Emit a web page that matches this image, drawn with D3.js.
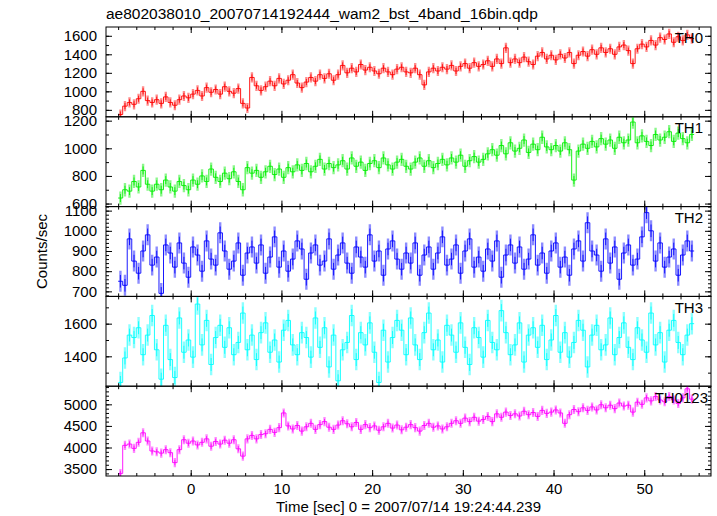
<!DOCTYPE html>
<html><head><meta charset="utf-8">
<script src="https://cdn.jsdelivr.net/npm/d3@7"></script>
<style>
body{margin:0;background:#fff}
svg{display:block}
text{font-family:"Liberation Sans",Arial,Helvetica,sans-serif;fill:#000}
</style>
</head><body>
<svg id="c" width="717" height="516"></svg>
<script>
const chartTitle = "ae802038010_20070714192444_wam2_bst_4band_16bin.qdp";
const xTitle = "Time [sec] 0 = 2007/07/14 19:24:44.239";
const yTitle = "Counts/sec";
const panelNames = ["TH0", "TH1", "TH2", "TH3", "TH0123"];
const panelColors = ["#ff0000", "#00ee00", "#0000ff", "#00ffff", "#ff00ff"];
const yDomains = [[725, 1695], [578, 1228], [675, 1120], [1217, 1767], [3340, 5420]];
const yMajorStep = [200, 200, 100, 200, 500];
const yMinorStep = [100, 100, 20, 100, 100];
const xDomain = [-9.34, 57.36];
const xMajorStep = 10, xMinorStep = 2;
const binStart = -8, binWidth = 0.5;
const errTH = [55, 48, 52, 66, 105];

const th0 = [
750,840,880,860,920,1000,900,880,
910,870,940,880,850,910,950,930,
970,1010,950,1040,990,1020,970,1050,
1000,980,1030,870,820,1150,1060,1010,
1050,1110,1060,1140,1080,1120,1180,1090,
1040,1100,1150,1110,1180,1140,1190,1120,
1180,1280,1200,1250,1210,1290,1230,1260,
1220,1190,1250,1210,1180,1240,1260,1210,
1200,1250,1180,1070,1210,1250,1220,1260,
1240,1280,1220,1270,1300,1250,1310,1270,
1290,1330,1270,1350,1300,1470,1310,1350,
1310,1370,1320,1290,1380,1420,1350,1390,
1340,1400,1360,1420,1300,1390,1430,1380,
1450,1400,1470,1420,1460,1400,1480,1500,
1440,1300,1460,1510,1480,1550,1500,1580,
1560,1620,1530,1590,1550,1610,1570
];
const th1 = [
640,700,690,760,720,840,740,690,
740,700,770,720,690,760,730,700,
770,740,800,760,850,790,760,820,
780,830,760,700,860,820,840,790,
830,870,810,850,790,860,830,880,
840,890,830,870,920,850,890,860,
880,910,850,930,870,900,840,890,
910,860,930,880,850,900,920,870,
850,900,930,870,910,860,890,920,
880,930,900,950,870,910,940,900,
920,960,990,950,1020,960,1040,980,
1000,1060,970,1030,990,1080,1010,990,
1020,980,1040,990,770,980,1030,1000,
1050,1010,1070,1030,1060,1000,1080,1040,
1060,1190,1040,1090,1050,1020,1100,1060,
1080,1120,1050,1110,1070,1040,1100
];
const th2 = [
750,730,960,850,790,900,980,830,
870,690,930,890,820,940,840,770,
920,880,800,950,860,830,990,900,
810,850,940,780,890,920,840,930,
790,870,970,820,900,800,860,950,
910,760,890,930,830,850,960,810,
880,940,840,790,920,870,820,980,
850,900,780,910,950,860,810,890,
840,940,780,880,920,810,890,970,
830,860,930,790,900,960,820,870,
800,910,850,950,770,880,930,840,
920,810,860,980,830,890,790,900,
940,820,870,780,910,950,850,1040,
900,880,800,960,840,920,760,890,
930,830,860,970,1090,1000,850,940,
820,870,910,780,880,950,900
];
const th3 = [
1240,1390,1530,1515,1575,1410,1530,1650,
1440,1260,1590,1380,1270,1635,1425,1500,
1395,1720,1470,1620,1350,1515,1590,1455,
1575,1410,1485,1665,1440,1530,1380,1545,
1605,1425,1500,1365,1560,1620,1470,1410,
1545,1515,1395,1635,1455,1575,1335,1530,
1250,1440,1485,1650,1380,1545,1470,1605,
1425,1240,1560,1365,1515,1620,1560,1410,
1635,1470,1380,1545,1665,1440,1500,1365,
1590,1530,1425,1605,1455,1350,1575,1515,
1395,1620,1485,1440,1680,1545,1410,1470,
1605,1365,1530,1575,1455,1590,1380,1500,
1650,1425,1545,1395,1485,1620,1560,1335,
1530,1590,1440,1470,1635,1410,1515,1605,
1455,1380,1575,1500,1425,1665,1470,1545,
1365,1560,1620,1485,1410,1530,1600
];
const th0123 = [
3400,4050,4080,3980,4120,4340,4150,3920,
3900,3870,3950,3880,3650,3950,4180,4100,
4150,4060,4120,4200,4030,4140,4080,4170,
4100,4180,3970,3800,4200,4280,4200,4300,
4320,4420,4350,4460,4800,4500,4430,4510,
4380,4480,4560,4420,4530,4600,4470,4420,
4520,4620,4550,4480,4580,4420,4530,4460,
4500,4400,4480,4560,4450,4520,4410,4470,
4530,4460,4380,4510,4560,4470,4500,4430,
4480,4560,4620,4560,4680,4600,4700,4610,
4650,4720,4600,4780,4700,4820,4740,4780,
4730,4840,4760,4810,4720,4860,4790,4820,
4870,4800,4560,4760,4880,4830,4920,4860,
4940,4870,4990,4920,4980,4900,5030,4960,
4980,4820,5050,5000,5150,5080,5180,5100,
5060,5180,5100,5020,5150,5360,5120
];
const seriesValues = [th0, th1, th2, th3, th0123];

const L = 106, R = 711, T = 27, B = 476;
const ph = (B - T) / panelNames.length;
const svg = d3.select("#c");
const x = d3.scaleLinear().domain(xDomain).range([L, R]);

function rng(d, step) {
  return d3.range(Math.ceil(d[0] / step - 1e-9) * step, d[1] + 1e-9, step);
}
function styleAxis(g, labels) {
  g.select(".domain").remove();
  g.selectAll(".tick line").attr("stroke", "#000").attr("stroke-width", 1);
  g.selectAll(".tick text").style("font-size", "15px").attr("fill", "#000")
    .style("font-family", '"Liberation Sans",Arial,sans-serif');
  if (!labels) g.selectAll(".tick text").remove();
}

const xMaj = rng(xDomain, xMajorStep);
const xMin = rng(xDomain, xMinorStep);

seriesValues.forEach((vals, p) => {
  const top = T + p * ph, bot = top + ph;
  const y = d3.scaleLinear().domain(yDomains[p]).range([bot, top]);
  const col = panelColors[p];
  const err = errTH[p];
  const cid = "clip" + p;
  svg.append("clipPath").attr("id", cid).append("rect")
    .attr("x", L).attr("y", top).attr("width", R - L).attr("height", ph);
  const dg = svg.append("g").attr("clip-path", `url(#${cid})`);
  const tc = i => binStart + (i + 0.5) * binWidth;
  dg.selectAll("line.e").data(vals).join("line").attr("class", "e")
    .attr("x1", (d, i) => x(tc(i))).attr("x2", (d, i) => x(tc(i)))
    .attr("y1", d => y(d - err)).attr("y2", d => y(d + err))
    .attr("stroke", col).attr("stroke-width", 2.4).attr("stroke-opacity", 0.45);
  const pts = [];
  vals.forEach((v, i) => {
    pts.push([x(tc(i) - binWidth / 2), y(v)]);
    pts.push([x(tc(i) + binWidth / 2), y(v)]);
  });
  dg.append("path").attr("d", d3.line()(pts)).attr("fill", "none")
    .attr("stroke", col).attr("stroke-width", 1).attr("stroke-opacity", 0.9);
  dg.selectAll("line.c").data(vals).join("line").attr("class", "c")
    .attr("x1", (d, i) => x(tc(i))).attr("x2", (d, i) => x(tc(i)))
    .attr("y1", d => y(d - err * 0.6)).attr("y2", d => y(d + err * 0.6))
    .attr("stroke", col).attr("stroke-width", 1).attr("stroke-opacity", 0.85);

  const yMaj = rng(yDomains[p], yMajorStep[p]);
  const yMin = rng(yDomains[p], yMinorStep[p]);
  svg.append("g").attr("transform", `translate(${L},0)`)
    .call(d3.axisLeft(y).tickValues(yMin).tickSize(-3)).call(g => styleAxis(g, false));
  svg.append("g").attr("transform", `translate(${L},0)`)
    .call(d3.axisLeft(y).tickValues(yMaj).tickSize(-6).tickPadding(9).tickFormat(d3.format("d")))
    .call(g => styleAxis(g, true));
  svg.append("g").attr("transform", `translate(${R},0)`)
    .call(d3.axisRight(y).tickValues(yMin).tickSize(-3)).call(g => styleAxis(g, false));
  svg.append("g").attr("transform", `translate(${R},0)`)
    .call(d3.axisRight(y).tickValues(yMaj).tickSize(-6)).call(g => styleAxis(g, false));
  svg.append("g").attr("transform", `translate(0,${top})`)
    .call(d3.axisTop(x).tickValues(xMin).tickSize(-3)).call(g => styleAxis(g, false));
  svg.append("g").attr("transform", `translate(0,${top})`)
    .call(d3.axisTop(x).tickValues(xMaj).tickSize(-6)).call(g => styleAxis(g, false));
  const last = p === seriesValues.length - 1;
  svg.append("g").attr("transform", `translate(0,${bot})`)
    .call(d3.axisBottom(x).tickValues(xMin).tickSize(-3)).call(g => styleAxis(g, false));
  svg.append("g").attr("transform", `translate(0,${bot})`)
    .call(d3.axisBottom(x).tickValues(xMaj).tickSize(-6).tickPadding(7).tickFormat(d3.format("d")))
    .call(g => styleAxis(g, last));

  svg.append("rect").attr("x", L).attr("y", top).attr("width", R - L).attr("height", ph)
    .attr("fill", "none").attr("stroke", "#000").attr("stroke-width", 1);

  svg.append("text").attr("x", last ? 708 : 703).attr("y", top + 16.3)
    .attr("text-anchor", "end").style("font-size", "15px").text(panelNames[p]);
});

svg.append("text").attr("x", L).attr("y", 19).style("font-size", "15.5px").text(chartTitle);
svg.append("text").attr("x", (L + R) / 2).attr("y", 512).attr("text-anchor", "middle")
  .style("font-size", "15px").text(xTitle);
svg.append("text").attr("transform", `translate(47,${(T + B) / 2}) rotate(-90)`)
  .attr("text-anchor", "middle").style("font-size", "15px").text(yTitle);
</script>
</body></html>
